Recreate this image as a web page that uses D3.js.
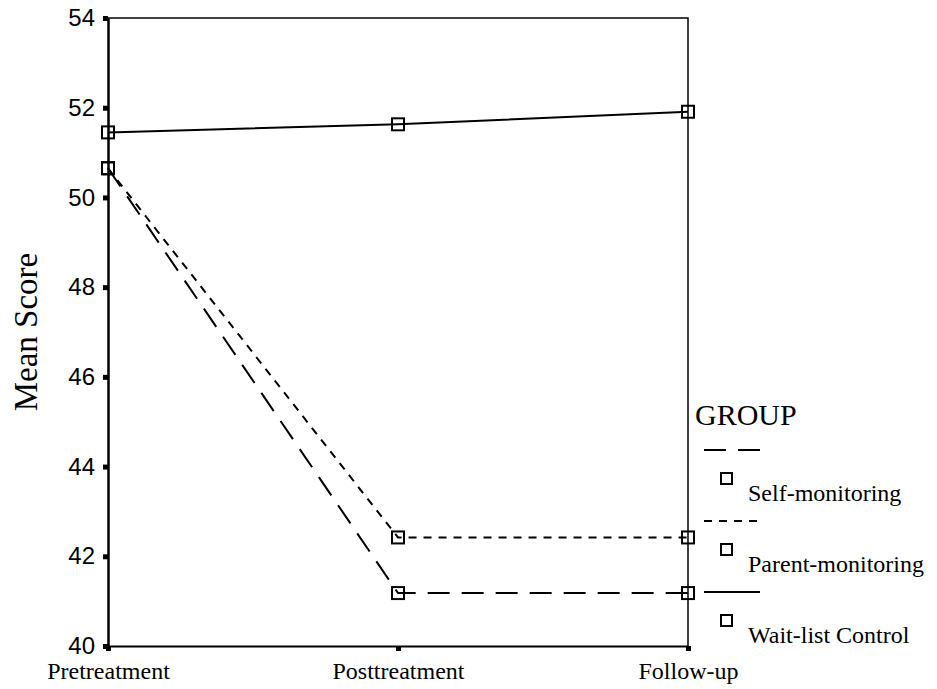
<!DOCTYPE html>
<html>
<head>
<meta charset="utf-8">
<script src="https://cdn.jsdelivr.net/npm/d3@7"></script>
<style>
  body { margin: 0; background: #fff; }
  .axis path, .axis line { stroke: #000; }
</style>
</head>
<body>
<svg id="chart" width="937" height="689"></svg>
<script>
// Données
let times = ["Pretreatment", "Posttreatment", "Follow-up"];
let groups = ["Self-monitoring", "Parent-monitoring", "Wait-list Control"];
let selfMonitoring = [50.65, 41.18, 41.18];
let parentMonitoring = [50.65, 42.42, 42.42];
let waitList = [51.45, 51.63, 51.91];
let yTicks = [40, 42, 44, 46, 48, 50, 52, 54];

let seriesValues = [selfMonitoring, parentMonitoring, waitList];
let dashes = ["22,12", "8,7", null];

let margin = {top: 18, right: 249, bottom: 43, left: 108};
let width = 937 - margin.left - margin.right;
let height = 689 - margin.top - margin.bottom;

let svg = d3.select("#chart");
let g = svg.append("g")
    .attr("transform", `translate(${margin.left}, ${margin.top})`);

// Échelles
let x = d3.scalePoint().domain(times).range([0, width]).padding(0);
let y = d3.scaleLinear().domain([40, 54]).range([height, 0]);

// Cadre (haut et droite)
g.append("path")
    .attr("d", `M0,0H${width}V${height}`)
    .attr("fill", "none")
    .attr("stroke", "#000")
    .attr("stroke-width", 1.5);

// Axe y
let yAxis = g.append("g")
    .attr("class", "axis y_axis")
    .call(d3.axisLeft(y).tickValues(yTicks).tickSize(5).tickPadding(8).tickSizeOuter(0));
yAxis.select(".domain").attr("stroke-width", 2.5);
yAxis.selectAll(".tick line").attr("stroke-width", 5);
yAxis.selectAll(".tick text")
    .attr("font-family", "Liberation Sans, Arial, sans-serif")
    .attr("font-size", 24)
    .attr("fill", "#000");

// Axe x
let xAxis = g.append("g")
    .attr("class", "axis x_axis")
    .attr("transform", `translate(0,${height})`)
    .call(d3.axisBottom(x).tickSize(5).tickPadding(11).tickSizeOuter(0));
xAxis.select(".domain").attr("stroke-width", 2);
xAxis.selectAll(".tick line").attr("stroke-width", 5);
xAxis.selectAll(".tick text")
    .attr("font-family", "Liberation Serif, Times New Roman, serif")
    .attr("font-size", 24)
    .attr("fill", "#000");

// Titre de l'axe y
svg.append("text")
    .attr("transform", `translate(37, ${margin.top + y(47)}) rotate(-90)`)
    .attr("text-anchor", "middle")
    .attr("font-family", "Liberation Serif, Times New Roman, serif")
    .attr("font-size", 33)
    .text("Mean Score");

// Lignes
let line = d3.line()
    .x(function(d, i) { return x(times[i]); })
    .y(function(d) { return y(d); });

seriesValues.forEach(function(vals, k) {
  g.append("path")
      .datum(vals)
      .attr("fill", "none")
      .attr("stroke", "#000")
      .attr("stroke-width", 2)
      .attr("stroke-dasharray", dashes[k])
      .attr("d", line);

  g.selectAll(".pt" + k)
    .data(vals)
    .enter().append("rect")
      .attr("class", "pt" + k)
      .attr("x", function(d, i) { return x(times[i]) - 6; })
      .attr("y", function(d) { return y(d) - 6; })
      .attr("width", 12)
      .attr("height", 12)
      .attr("fill", "none")
      .attr("stroke", "#000")
      .attr("stroke-width", 2);
});

// Légende
let legend = svg.append("g").attr("transform", "translate(695, 0)");
legend.append("text")
    .attr("x", 0)
    .attr("y", 425)
    .attr("font-family", "Liberation Serif, Times New Roman, serif")
    .attr("font-size", 30)
    .text("GROUP");

groups.forEach(function(name, k) {
  let top = 450 + k * 71;
  legend.append("line")
      .attr("x1", 9).attr("x2", 65)
      .attr("y1", top).attr("y2", top)
      .attr("stroke", "#000")
      .attr("stroke-width", 2)
      .attr("stroke-dasharray", dashes[k]);
  legend.append("rect")
      .attr("x", 26).attr("y", top + 23)
      .attr("width", 11).attr("height", 11)
      .attr("fill", "none")
      .attr("stroke", "#000")
      .attr("stroke-width", 2);
  legend.append("text")
      .attr("x", 53)
      .attr("y", top + 51)
      .attr("font-family", "Liberation Serif, Times New Roman, serif")
      .attr("font-size", 24)
      .text(name);
});
</script>
</body>
</html>
